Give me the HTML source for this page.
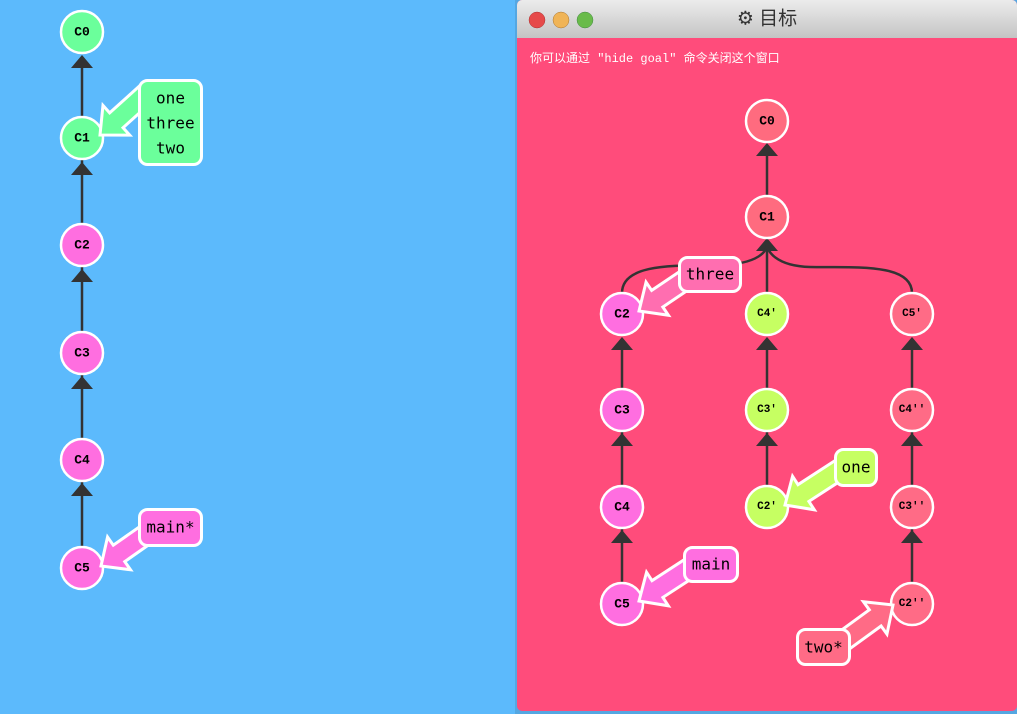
<!DOCTYPE html>
<html><head><meta charset="utf-8"><style>
html,body{margin:0;padding:0;width:1017px;height:714px;overflow:hidden;background:#5cbafc}
svg{position:absolute;left:0;top:0}
.n{stroke:#fff;stroke-width:2.5}
.t{font-family:"Liberation Mono",monospace;font-weight:bold;font-size:13px;text-anchor:middle;dominant-baseline:central;fill:#000}
.l{font-family:"DejaVu Sans Mono","Liberation Mono",monospace;font-size:16px;text-anchor:middle;dominant-baseline:central;fill:#000}
.e{stroke:#333;stroke-width:2.5;fill:none}
.ar{stroke:#fff;stroke-width:3;stroke-linejoin:miter}
</style></head><body>
<svg width="1017" height="714" viewBox="0 0 1017 714">
<defs>
<linearGradient id="tb" x1="0" y1="0" x2="0" y2="1"><stop offset="0" stop-color="#ececec"/><stop offset="1" stop-color="#c4c4c4"/></linearGradient>
<polygon id="tri" points="0,0 -11,13 11,13" fill="#333"/>
</defs>
<g>
<line class="e" x1="82" y1="547" x2="82" y2="58"/>
<use href="#tri" x="82" y="55"/><use href="#tri" x="82" y="162"/><use href="#tri" x="82" y="269"/><use href="#tri" x="82" y="376"/><use href="#tri" x="82" y="483"/>
<circle class="n" cx="82" cy="32" r="21" fill="#6bff9b"/><text class="t" x="82" y="32">C0</text>
<circle class="n" cx="82" cy="138" r="21" fill="#6bff9b"/><text class="t" x="82" y="138">C1</text>
<circle class="n" cx="82" cy="245" r="21" fill="#ff6ee0"/><text class="t" x="82" y="245">C2</text>
<circle class="n" cx="82" cy="353" r="21" fill="#ff6ee0"/><text class="t" x="82" y="353">C3</text>
<circle class="n" cx="82" cy="460" r="21" fill="#ff6ee0"/><text class="t" x="82" y="460">C4</text>
<circle class="n" cx="82" cy="568" r="21" fill="#ff6ee0"/><text class="t" x="82" y="568">C5</text>
<polygon class="ar" fill="#6bff9b" transform="translate(100,135) rotate(138)" points="-66,-10 -22,-10 -22,-20 0,0 -22,20 -22,10 -66,10"/>
<rect x="139.5" y="80.5" width="62" height="84" rx="8" fill="#6bff9b" stroke="#fff" stroke-width="3"/>
<text class="l" x="170.5" y="98">one</text><text class="l" x="170.5" y="123">three</text><text class="l" x="170.5" y="148">two</text>
<polygon class="ar" fill="#ff6ee0" transform="translate(101,566) rotate(145)" points="-62,-10 -22,-10 -22,-20 0,0 -22,20 -22,10 -62,10"/>
<rect x="139.5" y="509.5" width="62" height="36" rx="8" fill="#ff6ee0" stroke="#fff" stroke-width="3"/>
<text class="l" x="170.5" y="527">main*</text>
</g>
<rect x="515" y="0" width="502" height="714" fill="#3a6f95" opacity="0.25"/>
<rect x="517" y="0" width="500" height="711" rx="5" fill="#ff4c7b"/>
<path d="M517,38 V5 a5,5 0 0 1 5,-5 H1012 a5,5 0 0 1 5,5 V38 Z" fill="url(#tb)"/>
<circle cx="537" cy="20" r="8" fill="#e64a4a" stroke="#a33" stroke-width="0.5"/>
<circle cx="561" cy="20" r="8" fill="#f0b457" stroke="#a73" stroke-width="0.5"/>
<circle cx="585" cy="20" r="8" fill="#69bb4a" stroke="#484" stroke-width="0.5"/>
<text x="767" y="19" font-family="'Liberation Sans','Noto Sans CJK SC',sans-serif" font-size="19" fill="#333" text-anchor="middle" dominant-baseline="central">⚙ 目标</text>
<text x="530" y="62" font-family="'Liberation Mono','Noto Sans CJK SC',monospace" font-size="12" fill="#fff">你可以通过 "hide goal" 命令关闭这个窗口</text>
<line class="e" x1="767" y1="196" x2="767" y2="145"/><use href="#tri" x="767" y="143"/>
<line class="e" x1="767" y1="293" x2="767" y2="242"/><use href="#tri" x="767" y="238"/>
<path class="e" d="M622,293 C622,262 680,266 720,265 C760,264 767,250 767,245"/>
<path class="e" d="M912,293 C912,262 850,268 810,267 C775,266 767,250 767,245"/>
<g>
<line class="e" x1="622" y1="583" x2="622" y2="340"/><use href="#tri" x="622" y="337"/><use href="#tri" x="622" y="433"/><use href="#tri" x="622" y="530"/>
<line class="e" x1="767" y1="486" x2="767" y2="340"/><use href="#tri" x="767" y="337"/><use href="#tri" x="767" y="433"/>
<line class="e" x1="912" y1="583" x2="912" y2="340"/><use href="#tri" x="912" y="337"/><use href="#tri" x="912" y="433"/><use href="#tri" x="912" y="530"/>
</g>
<g>
<circle class="n" cx="767" cy="121" r="21" fill="#ff6b7f"/><text class="t" x="767" y="121">C0</text>
<circle class="n" cx="767" cy="217" r="21" fill="#ff6b7f"/><text class="t" x="767" y="217">C1</text>
<circle class="n" cx="622" cy="314" r="21" fill="#ff6ee0"/><text class="t" x="622" y="314">C2</text>
<circle class="n" cx="622" cy="410" r="21" fill="#ff6ee0"/><text class="t" x="622" y="410">C3</text>
<circle class="n" cx="622" cy="507" r="21" fill="#ff6ee0"/><text class="t" x="622" y="507">C4</text>
<circle class="n" cx="622" cy="604" r="21" fill="#ff6ee0"/><text class="t" x="622" y="604">C5</text>
<circle class="n" cx="767" cy="314" r="21" fill="#c6ff62"/><text class="t" x="767" y="314" style="font-size:11px">C4'</text>
<circle class="n" cx="767" cy="410" r="21" fill="#c6ff62"/><text class="t" x="767" y="410" style="font-size:11px">C3'</text>
<circle class="n" cx="767" cy="507" r="21" fill="#c6ff62"/><text class="t" x="767" y="507" style="font-size:11px">C2'</text>
<circle class="n" cx="912" cy="314" r="21" fill="#ff6b86"/><text class="t" x="912" y="314" style="font-size:11px">C5'</text>
<circle class="n" cx="912" cy="410" r="21" fill="#ff6b86"/><text class="t" x="912" y="410" style="font-size:11px">C4''</text>
<circle class="n" cx="912" cy="507" r="21" fill="#ff6b86"/><text class="t" x="912" y="507" style="font-size:11px">C3''</text>
<circle class="n" cx="912" cy="604" r="21" fill="#ff6b86"/><text class="t" x="912" y="604" style="font-size:11px">C2''</text>
</g>
<polygon class="ar" fill="#ff6eb0" transform="translate(639,311) rotate(146)" points="-62,-10 -22,-10 -22,-20 0,0 -22,20 -22,10 -62,10"/>
<rect x="679.5" y="257.5" width="61" height="34" rx="8" fill="#ff6eb0" stroke="#fff" stroke-width="3"/>
<text class="l" x="710" y="274">three</text>
<polygon class="ar" fill="#c6ff62" transform="translate(785,505) rotate(147)" points="-66,-10 -22,-10 -22,-20 0,0 -22,20 -22,10 -66,10"/>
<rect x="835.5" y="449.5" width="41" height="36" rx="8" fill="#c6ff62" stroke="#fff" stroke-width="3"/>
<text class="l" x="856" y="467">one</text>
<polygon class="ar" fill="#ff6ee0" transform="translate(639,601) rotate(147)" points="-64,-10 -22,-10 -22,-20 0,0 -22,20 -22,10 -64,10"/>
<rect x="684.5" y="547.5" width="53" height="34" rx="8" fill="#ff6ee0" stroke="#fff" stroke-width="3"/>
<text class="l" x="711" y="564">main</text>
<polygon class="ar" fill="#ff6b86" transform="translate(893,605) rotate(-36)" points="-64,-10 -22,-10 -22,-20 0,0 -22,20 -22,10 -64,10"/>
<rect x="797.5" y="629.5" width="52" height="35" rx="8" fill="#ff6b86" stroke="#fff" stroke-width="3"/>
<text class="l" x="823.5" y="647">two*</text>
</svg>
</body></html>
